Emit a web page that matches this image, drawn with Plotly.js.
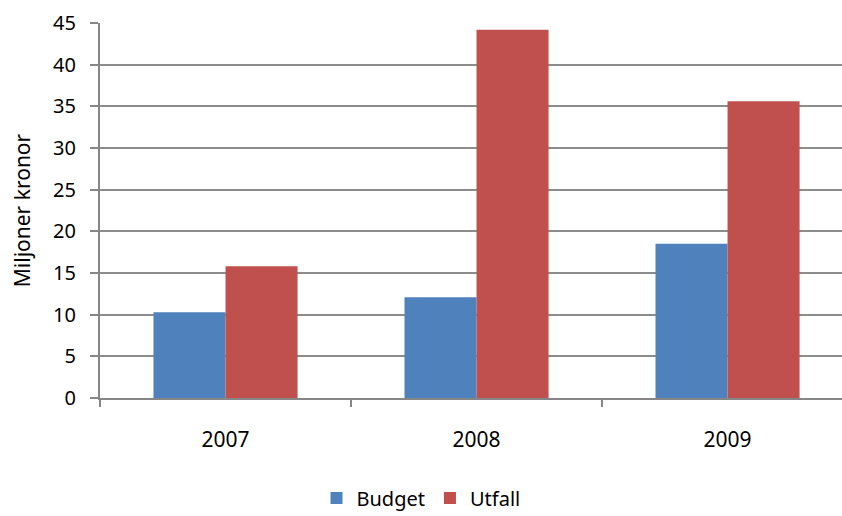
<!DOCTYPE html>
<html>
<head>
<meta charset="utf-8">
<script src="https://cdn.plot.ly/plotly-3.0.1.min.js"></script>
<style>html,body{margin:0;padding:0;background:#fff;}#chart{width:842px;height:516px;}</style>
</head>
<body>
<div id="chart"></div>
<script>
const categories = ["2007", "2008", "2009"];
const budget = [10.3, 12.1, 18.5];
const utfall = [15.8, 44.2, 35.6];
const yTicks = [0, 5, 10, 15, 20, 25, 30, 35, 40, 45];

const font = {family: "'Noto Sans', sans-serif", size: 20, color: "#000"};

const data = [
  {type: "bar", name: "Budget", x: categories, y: budget, marker: {color: "#4F81BD"}},
  {type: "bar", name: "Utfall", x: categories, y: utfall, marker: {color: "#C0504D"}}
];

const layout = {
  width: 842, height: 516,
  margin: {l: 100, r: 0, t: 23, b: 118},
  paper_bgcolor: "#fff", plot_bgcolor: "#fff",
  font: font,
  barmode: "group",
  bargap: 0.426,
  bargroupgap: 0,
  showlegend: true,
  legend: {orientation: "h", xref: "container", yref: "container", x: 0.5, xanchor: "center", y: 0.035, yanchor: "middle", font: {size: 20}, itemwidth: 30, tracegroupgap: 0},
  xaxis: {
    type: "category", range: [-0.5, 2.456],
    showline: true, linecolor: "#868686", linewidth: 2,
    ticks: "outside", tickson: "boundaries", ticklen: 7, tickcolor: "#868686", tickwidth: 2,
    ticklabelstandoff: 22,
    showgrid: false, tickfont: {size: 21}
  },
  yaxis: {
    range: [0, 45], tickvals: yTicks,
    showline: true, linecolor: "#868686", linewidth: 2,
    ticks: "outside", ticklen: 8, tickcolor: "#868686", tickwidth: 2,
    ticklabelstandoff: 10,
    showgrid: true, gridcolor: "#8c8c8c", gridwidth: 2,
    zeroline: false, tickfont: {size: 20},
    title: {text: "Miljoner kronor", font: {size: 21}, standoff: 17}
  }
};

Plotly.newPlot("chart", data, layout, {displayModeBar: false, staticPlot: true});
</script>
</body>
</html>
